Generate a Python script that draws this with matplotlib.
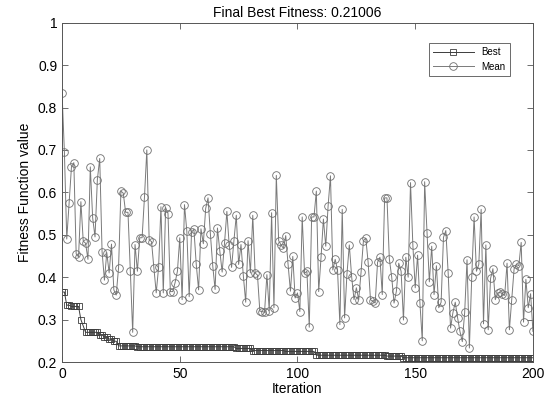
#!/usr/bin/env python3
"""
GA convergence plot: best and mean fitness per iteration
"""

import numpy as np
import matplotlib
matplotlib.use("Agg")
import matplotlib.pyplot as plt

# Best fitness as (first iteration, value) steps
best_steps = [(0, 0.365), (2, 0.334), (4, 0.331), (8, 0.300), (9, 0.285),
              (10, 0.270), (16, 0.264), (18, 0.259), (20, 0.254), (22, 0.249),
              (24, 0.238), (32, 0.236), (74, 0.232), (81, 0.227), (95, 0.225),
              (108, 0.216), (138, 0.214), (145, 0.21006)]

# Mean fitness, one value per iteration (0..200)
mean_fitness = [
    0.835, 0.695, 0.490, 0.575, 0.660, 0.670, 0.455, 0.448, 0.578, 0.485,
    0.480, 0.442, 0.660, 0.540, 0.495, 0.630, 0.680, 0.460, 0.393, 0.458,
    0.410, 0.478, 0.370, 0.358, 0.422, 0.603, 0.598, 0.553, 0.553, 0.415,
    0.270, 0.477, 0.414, 0.493, 0.493, 0.588, 0.700, 0.488, 0.484, 0.422,
    0.363, 0.423, 0.566, 0.363, 0.564, 0.550, 0.366, 0.366, 0.387, 0.414,
    0.493, 0.347, 0.571, 0.508, 0.354, 0.506, 0.513, 0.430, 0.370, 0.514,
    0.479, 0.562, 0.587, 0.502, 0.427, 0.371, 0.516, 0.462, 0.412, 0.480,
    0.555, 0.475, 0.423, 0.486, 0.546, 0.430, 0.477, 0.403, 0.341, 0.486,
    0.410, 0.546, 0.410, 0.405, 0.320, 0.319, 0.317, 0.406, 0.321, 0.552,
    0.328, 0.640, 0.486, 0.476, 0.468, 0.498, 0.430, 0.367, 0.449, 0.351,
    0.363, 0.319, 0.542, 0.409, 0.414, 0.282, 0.542, 0.542, 0.603, 0.366,
    0.447, 0.537, 0.473, 0.568, 0.639, 0.417, 0.442, 0.417, 0.288, 0.560,
    0.304, 0.407, 0.476, 0.401, 0.347, 0.375, 0.347, 0.412, 0.486, 0.492,
    0.435, 0.347, 0.343, 0.339, 0.435, 0.447, 0.359, 0.587, 0.587, 0.443,
    0.401, 0.339, 0.367, 0.433, 0.414, 0.299, 0.447, 0.400, 0.623, 0.475,
    0.375, 0.452, 0.339, 0.250, 0.625, 0.505, 0.389, 0.473, 0.359, 0.427,
    0.328, 0.341, 0.494, 0.510, 0.409, 0.280, 0.316, 0.341, 0.304, 0.272,
    0.248, 0.317, 0.441, 0.233, 0.400, 0.542, 0.414, 0.430, 0.560, 0.290,
    0.476, 0.276, 0.397, 0.420, 0.347, 0.363, 0.364, 0.361, 0.357, 0.433,
    0.276, 0.347, 0.420, 0.430, 0.427, 0.482, 0.294, 0.395, 0.328, 0.361,
    0.272,
]

x_ticks = [0, 50, 100, 150, 200]
y_ticks = [0.2, 0.3, 0.4, 0.5, 0.6, 0.7, 0.8, 0.9, 1.0]
y_tick_labels = ['0.2', '0.3', '0.4', '0.5', '0.6', '0.7', '0.8', '0.9', '1']

iterations = np.arange(len(mean_fitness))
starts = [s for s, _ in best_steps] + [len(mean_fitness)]
best_fitness = np.repeat([v for _, v in best_steps], np.diff(starts))

plt.rcParams['font.family'] = ['Liberation Sans', 'DejaVu Sans']

fig = plt.figure(figsize=(5.54, 4.03), dpi=100)
ax = fig.add_axes([0.112, 0.1017, 0.850, 0.842])

ax.plot(iterations, best_fitness, '-', color='#3c3c3c', linewidth=0.7,
        marker='s', markersize=4.2, markerfacecolor='none',
        markeredgecolor='#3c3c3c', markeredgewidth=0.6, label='Best')
ax.plot(iterations, mean_fitness, '-', color='#7a7a7a', linewidth=0.7,
        marker='o', markersize=5.5, markerfacecolor='none',
        markeredgecolor='#6e6e6e', markeredgewidth=0.6, label='Mean')

ax.set_xlim(0, 200)
ax.set_ylim(0.2, 1.0)
ax.set_xticks(x_ticks)
ax.set_yticks(y_ticks)
ax.set_yticklabels(y_tick_labels)
ax.tick_params(direction='in', top=True, right=True, length=4,
               labelsize=10, color='#555555', width=0.6)
for side in ax.spines.values():
    side.set_linewidth(0.7)
    side.set_color('#555555')

ax.set_title('Final Best Fitness: 0.21006', fontsize=10, pad=4)
ax.set_xlabel('Iteration', fontsize=10, labelpad=1)
ax.set_ylabel('Fitness Function value', fontsize=10, labelpad=4)

leg = ax.legend(loc='upper right', bbox_to_anchor=(0.962, 0.955),
                fontsize=7, handlelength=4.2, frameon=True, fancybox=False,
                edgecolor='#444444', borderpad=0.45, labelspacing=0.45)
leg.get_frame().set_linewidth(0.7)

fig.savefig('out.png', dpi=100)
